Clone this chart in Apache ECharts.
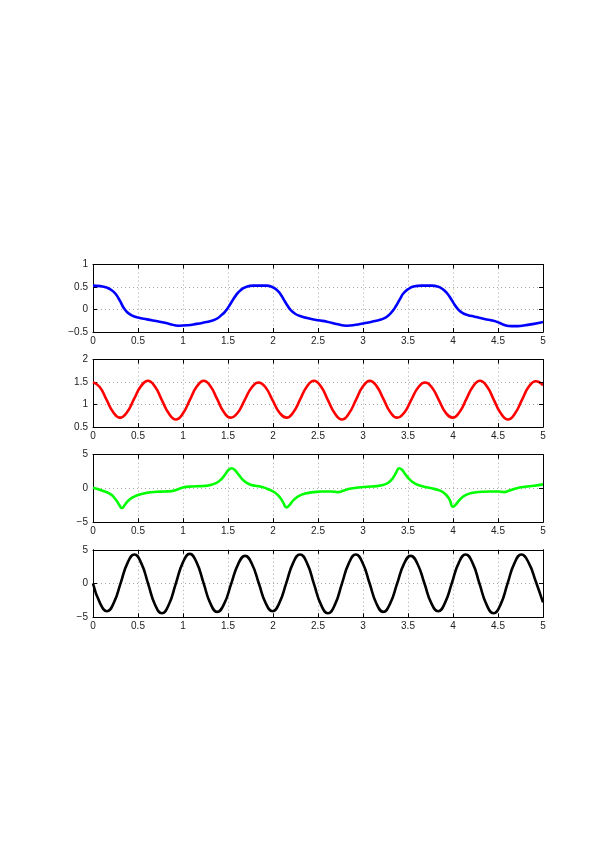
<!DOCTYPE html>
<html>
<head>
<meta charset="utf-8">
<script src="https://cdn.jsdelivr.net/npm/echarts@6/dist/echarts.min.js"></script>
<style>
html,body{margin:0;padding:0;background:#fff;}
#chart{width:599px;height:848px;}
</style>
</head>
<body>
<div id="chart"></div>
<script>
// Subplot 1 (blue)
var blueX = [0,0.08,0.15,0.2,0.25,0.3,0.34,0.38,0.43,0.5,0.6,0.74,0.85,0.95,1.05,1.15,1.23,1.32,1.38,1.43,1.47,1.51,1.55,1.59,1.64,1.7,1.78,1.93,1.99,2.04,2.08,2.12,2.16,2.2,2.25,2.31,2.38,2.5,2.6,2.72,2.82,2.92,3.0,3.1,3.19,3.25,3.29,3.33,3.37,3.41,3.45,3.5,3.56,3.65,3.77,3.83,3.88,3.93,3.97,4.01,4.05,4.1,4.16,4.24,4.35,4.45,4.52,4.58,4.65,4.72,4.8,4.9,5.0];
var blueY = [0.53,0.52,0.49,0.44,0.35,0.19,0.04,-0.06,-0.13,-0.18,-0.22,-0.27,-0.32,-0.36,-0.35,-0.32,-0.29,-0.25,-0.2,-0.12,-0.04,0.07,0.2,0.32,0.43,0.5,0.53,0.53,0.5,0.44,0.35,0.22,0.09,-0.02,-0.1,-0.15,-0.19,-0.24,-0.27,-0.33,-0.36,-0.34,-0.31,-0.27,-0.23,-0.18,-0.12,-0.03,0.09,0.23,0.36,0.45,0.51,0.53,0.53,0.51,0.46,0.37,0.26,0.13,0.02,-0.07,-0.12,-0.16,-0.21,-0.25,-0.3,-0.35,-0.37,-0.37,-0.35,-0.32,-0.28];

// Subplot 2 (red)
var redX = [0,0.075,0.15,0.225,0.30,0.378,0.455,0.533,0.61,0.688,0.765,0.843,0.92,0.998,1.075,1.153,1.23,1.305,1.38,1.455,1.53,1.608,1.685,1.763,1.84,1.918,1.995,2.073,2.15,2.226,2.303,2.379,2.455,2.533,2.61,2.688,2.765,2.843,2.92,2.998,3.075,3.151,3.228,3.304,3.38,3.458,3.535,3.613,3.69,3.766,3.843,3.919,3.995,4.071,4.148,4.224,4.30,4.378,4.455,4.533,4.61,4.688,4.765,4.843,4.92,5.0];
var redY = [1.50,1.39,1.11,0.83,0.71,0.83,1.12,1.41,1.53,1.40,1.10,0.80,0.67,0.80,1.10,1.40,1.53,1.41,1.12,0.83,0.71,0.82,1.10,1.38,1.49,1.38,1.10,0.82,0.71,0.83,1.12,1.41,1.53,1.40,1.10,0.80,0.67,0.80,1.10,1.40,1.53,1.41,1.12,0.83,0.71,0.82,1.10,1.38,1.49,1.38,1.10,0.82,0.71,0.83,1.12,1.41,1.53,1.40,1.10,0.80,0.67,0.80,1.10,1.40,1.52,1.43];

// Subplot 3 (green)
var greenX = [0,0.1,0.19,0.25,0.29,0.32,0.35,0.4,0.46,0.52,0.6,0.7,0.8,0.87,0.93,1.0,1.1,1.2,1.28,1.36,1.42,1.47,1.51,1.54,1.57,1.62,1.68,1.74,1.8,1.88,1.96,2.02,2.07,2.11,2.15,2.18,2.23,2.29,2.36,2.45,2.55,2.65,2.72,2.78,2.85,2.95,3.05,3.15,3.22,3.28,3.33,3.37,3.4,3.43,3.47,3.52,3.58,3.65,3.72,3.8,3.87,3.92,3.96,4.0,4.03,4.08,4.14,4.22,4.32,4.42,4.5,4.57,4.62,4.7,4.8,4.9,5.0];
var greenY = [0.1,-0.3,-0.8,-1.6,-2.4,-2.9,-2.5,-1.7,-1.2,-0.9,-0.65,-0.5,-0.45,-0.4,-0.2,0.15,0.3,0.35,0.45,0.75,1.3,2.1,2.8,3.0,2.8,2.0,1.1,0.6,0.4,0.2,-0.2,-0.6,-1.2,-2.0,-2.8,-2.5,-1.7,-1.1,-0.75,-0.55,-0.45,-0.45,-0.55,-0.35,-0.05,0.15,0.25,0.35,0.5,0.85,1.5,2.4,3.0,2.8,2.1,1.3,0.7,0.35,0.15,-0.1,-0.4,-0.9,-1.6,-2.7,-2.4,-1.6,-1.0,-0.65,-0.5,-0.45,-0.45,-0.55,-0.35,0.0,0.25,0.4,0.6];

// Subplot 4 (black)
var blackX = [0,0.078,0.155,0.231,0.308,0.384,0.46,0.536,0.613,0.689,0.765,0.843,0.92,0.998,1.075,1.151,1.228,1.304,1.38,1.458,1.535,1.613,1.69,1.766,1.843,1.919,1.995,2.071,2.148,2.224,2.30,2.378,2.455,2.533,2.61,2.688,2.765,2.843,2.92,2.996,3.073,3.149,3.225,3.301,3.378,3.454,3.53,3.606,3.683,3.759,3.835,3.911,3.988,4.064,4.14,4.218,4.295,4.373,4.45,4.528,4.605,4.683,4.76,4.84,4.92,5.0];
var blackY = [0,-2.9,-4.1,-2.87,0.1,3.07,4.3,3.03,-0.05,-3.13,-4.4,-3.1,0,3.1,4.4,3.14,0.1,-2.94,-4.2,-2.98,-0.05,2.88,4.1,2.9,0,-2.9,-4.1,-2.87,0.1,3.07,4.3,3.03,-0.05,-3.13,-4.4,-3.13,-0.05,3.03,4.3,3.05,0.05,-2.95,-4.2,-2.98,-0.05,2.88,4.1,2.9,0,-2.9,-4.1,-2.87,0.1,3.07,4.3,3.03,-0.05,-3.13,-4.4,-3.13,-0.05,3.03,4.3,3.1,0.3,-2.8];

// Axis ranges / ticks
var xMin = 0, xMax = 5, xStep = 0.5;
var yRanges = [
  {min: -0.5, max: 1, step: 0.5},
  {min: 0.5, max: 2, step: 0.5},
  {min: -5, max: 5, step: 5},
  {min: -5, max: 5, step: 5}
];
var seriesDefs = [
  {x: blueX, y: blueY, color: '#0000ff'},
  {x: redX, y: redY, color: '#ff0000'},
  {x: greenX, y: greenY, color: '#00ff00'},
  {x: blackX, y: blackY, color: '#000000'}
];

function pairs(xs, ys){ var out=[]; for(var i=0;i<xs.length;i++) out.push([xs[i], ys[i]]); return out; }
function fmt(v){ var s = String(Math.round(v*1000)/1000); return s.replace('-', '\u2212'); }

var tops = [264.5, 359.6, 454.7, 549.8];
var plotH = 67.5;
var labelFont = {fontFamily: 'Liberation Sans, Arial, sans-serif', fontSize: 10, color: '#222'};

var grids = [], xAxes = [], yAxes = [], series = [];
for (var k=0;k<4;k++){
  grids.push({left: 93, right: 56, top: tops[k], height: plotH, show: false, containLabel: false});
  var axLine = {show:true, onZero:false, lineStyle:{color:'#000', width:1}};
  var tick = {show:true, inside:true, length:4, lineStyle:{color:'#000'}};
  var split = {show:true, lineStyle:{color:'#a8a8a8', type:[1,3], width:1}};
  xAxes.push({type:'value', gridIndex:k, min:xMin, max:xMax, interval:xStep, position:'bottom',
    axisLine:axLine, axisTick:tick,
    axisLabel:Object.assign({margin:4, formatter: fmt, showMinLabel:true, showMaxLabel:true}, labelFont),
    splitLine:split, z:1
  });
  xAxes.push({type:'value', gridIndex:k, min:xMin, max:xMax, interval:xStep, position:'top',
    axisLine:axLine, axisTick:tick, axisLabel:{show:false}, splitLine:{show:false}, z:4
  });
  var r = yRanges[k];
  yAxes.push({type:'value', gridIndex:k, min:r.min, max:r.max, interval:r.step, position:'left',
    axisLine:axLine, axisTick:tick,
    axisLabel:Object.assign({margin:5, formatter: fmt, showMinLabel:true, showMaxLabel:true}, labelFont),
    splitLine:split, z:1
  });
  yAxes.push({type:'value', gridIndex:k, min:r.min, max:r.max, interval:r.step, position:'right',
    axisLine:axLine, axisTick:tick, axisLabel:{show:false}, splitLine:{show:false}, z:4
  });
  var d = seriesDefs[k];
  series.push({type:'line', xAxisIndex:2*k, yAxisIndex:2*k, data: pairs(d.x, d.y),
    smooth: 0.5, showSymbol:false, symbol:'none', clip:true,
    lineStyle:{color:d.color, width:2.6}, itemStyle:{color:d.color}, z:3});
}

var chart = echarts.init(document.getElementById('chart'), null, {renderer:'canvas'});
chart.setOption({
  animation:false,
  backgroundColor:'#fff',
  grid: grids, xAxis: xAxes, yAxis: yAxes, series: series
});
</script>
</body>
</html>
